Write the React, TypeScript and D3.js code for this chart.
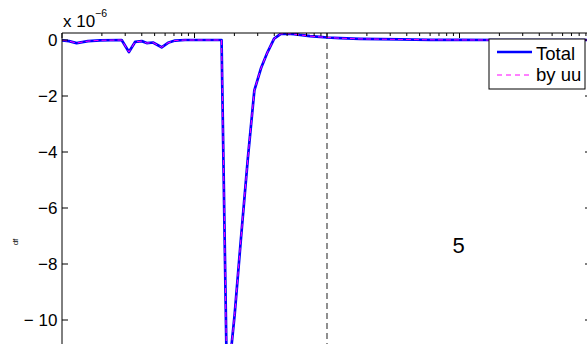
import React from "react";
import * as d3 from "d3";

const tValues = [1, 1.13, 1.29, 1.57, 1.94, 2.82, 3.2, 3.56, 4.0, 4.36, 4.86, 5.65, 6.31, 7.13, 8.48, 16.0, 17.6, 20.1, 22.5, 25.3, 28.3, 31.8, 35.6, 39.9, 44.8, 50.2, 56.4, 62.5, 74.4, 88.5, 100, 125, 177, 251, 356, 599, 1009, 2021, 10000];
const totalValues = [-0.01, -0.04, -0.11, -0.04, -0.01, 0, -0.43, -0.07, -0.04, -0.11, -0.09, -0.26, -0.1, -0.02, 0, 0, -12.5, -9.8, -7.0, -4.2, -1.8, -1.0, -0.43, 0.05, 0.22, 0.23, 0.21, 0.18, 0.14, 0.11, 0.09, 0.065, 0.04, 0.03, 0.02, 0.008, 0.003, 0, 0];
const byUuValues = totalValues.slice();
const yTickValues = [0, -2, -4, -6, -8, -10];
const legendLabels = ["Total", "by uu"];
const markerT = 100;
const annotation = "5";
const exponentLabel = "\u22126";

const W = 587, H = 344;
const L = 62, R = 592, T = 33, B = 420;

export default function App() {
  const x = d3.scaleLog().domain([1, 10000]).range([L, R]);
  const y = d3.scaleLinear().domain([0.25, -10]).range([T, 320]);
  const line = d3.line<number>().x((_, i) => x(tValues[i])).y((d) => y(d));
  const majors = [1, 10, 100, 1000, 10000];
  const minors: number[] = [];
  for (let d = 1; d < 10000; d *= 10) for (let k = 2; k <= 9; k++) minors.push(d * k);
  const font = "Helvetica, Arial, 'Liberation Sans', sans-serif";
  const fs = 17;
  const digitW = 0.556 * fs;
  const labelEnd = L - 4.5;
  return (
    <svg width={W} height={H} style={{ position: "absolute", left: 0, top: 0, background: "#fff" }} fontFamily={font}>
      <defs>
        <clipPath id="plot"><rect x={L} y={T} width={R - L} height={B - T} /></clipPath>
      </defs>
      <g clipPath="url(#plot)">
        <line x1={x(markerT)} x2={x(markerT)} y1={T} y2={H} stroke="#555" strokeWidth={1.3} strokeDasharray="6,4" />
        <path d={line(totalValues) || ""} fill="none" stroke="#0000ff" strokeWidth={2.7} strokeLinejoin="round" />
        <path d={line(byUuValues) || ""} fill="none" stroke="#ff00ff" strokeWidth={1} strokeDasharray="5,3" />
      </g>
      <line x1={L} x2={L} y1={T} y2={H} stroke="#000" strokeWidth={1} />
      <line x1={L} x2={R} y1={T} y2={T} stroke="#000" strokeWidth={1} />
      <line x1={R} x2={R} y1={T} y2={H} stroke="#000" strokeWidth={1} />
      {majors.map((m) => (
        <line key={"M" + m} x1={x(m)} x2={x(m)} y1={T} y2={T + 5} stroke="#000" strokeWidth={1} />
      ))}
      {minors.map((m) => (
        <line key={"m" + m} x1={x(m)} x2={x(m)} y1={T} y2={T + 3} stroke="#000" strokeWidth={1} />
      ))}
      {yTickValues.map((v) => {
        const digits = String(Math.abs(v));
        const digitsStart = labelEnd - digits.length * digitW;
        const minusEnd = digitsStart - (digits.length > 1 ? 5 : 0);
        return (
          <g key={v}>
            <line x1={L} x2={L + 6} y1={y(v)} y2={y(v)} stroke="#000" strokeWidth={1} />
            <line x1={R - 7} x2={R} y1={y(v)} y2={y(v)} stroke="#000" strokeWidth={1} />
            <text x={labelEnd} y={y(v)} dy="0.36em" textAnchor="end" fontSize={fs}>{digits}</text>
            {v < 0 && (
              <text x={minusEnd} y={y(v)} dy="0.36em" textAnchor="end" fontSize={fs}>{"\u2212"}</text>
            )}
          </g>
        );
      })}
      <text x={63} y={27.3} fontSize={fs}>x 10</text>
      <text x={95} y={17.3} fontSize={10.5}>{exponentLabel}</text>
      <text transform="translate(18,242) rotate(-90)" textAnchor="middle" fontSize={8}>df</text>
      <text x={458.5} y={252.5} textAnchor="middle" fontSize={22}>{annotation}</text>
      <rect x={489} y={39} width={96} height={50} fill="#fff" stroke="#000" strokeWidth={1} />
      <line x1={497} x2={532} y1={52} y2={52} stroke="#0000ff" strokeWidth={2.7} />
      <line x1={497} x2={532} y1={75} y2={75} stroke="#ff00ff" strokeWidth={1} strokeDasharray="5,4" />
      <text x={536} y={59.5} fontSize={18.5}>{legendLabels[0]}</text>
      <text x={536} y={81} fontSize={18.5}>{legendLabels[1]}</text>
    </svg>
  );
}
